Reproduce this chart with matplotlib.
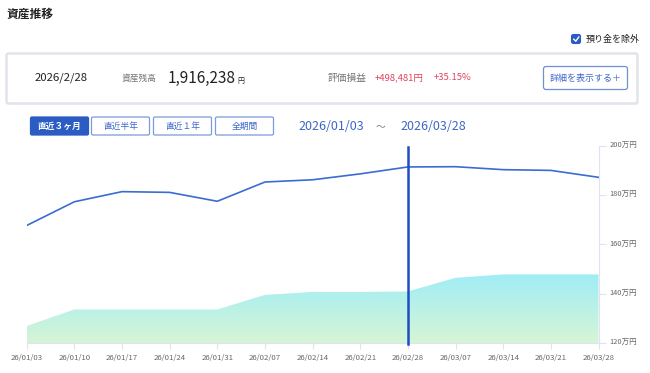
import numpy as np
import matplotlib.pyplot as plt
from matplotlib.patches import FancyBboxPatch, Polygon
from matplotlib.colors import LinearSegmentedColormap
from matplotlib.transforms import ScaledTranslation

plt.rcParams['font.family'] = ['Noto Sans CJK JP', 'DejaVu Sans']

# data (万円)
dates = ['26/01/03', '26/01/10', '26/01/17', '26/01/24', '26/01/31', '26/02/07', '26/02/14',
         '26/02/21', '26/02/28', '26/03/07', '26/03/14', '26/03/21', '26/03/28']
total = [167.7, 177.3, 181.4, 181.1, 177.5, 185.3, 186.2, 188.6, 191.4, 191.5, 190.3, 190.0, 187.2]
invested = [127.0, 133.7, 133.7, 133.7, 133.7, 139.6, 140.8, 140.8, 141.0, 146.5, 147.9, 147.9, 147.9]
y_ticks = [120, 140, 160, 180, 200]
y_labels = ['120万円', '140万円', '160万円', '180万円', '200万円']
cursor_idx = 8

W, H = 650, 373
fig = plt.figure(figsize=(W / 100, H / 100), dpi=100)

# overlay in pixel coordinates for the header widgets
ov = fig.add_axes([0, 0, 1, 1])
ov.set_xlim(0, W)
ov.set_ylim(H, 0)
ov.axis('off')

dark = '#222222'
gray = '#777777'
blue = '#3d66c9'
red = '#e0435f'

ov.text(7, 14, '資産推移', fontsize=8.5, fontweight='bold', color=dark, va='center')

# checkbox
ov.add_patch(FancyBboxPatch((571.5, 34.5), 9, 9, boxstyle='round,pad=0,rounding_size=2',
                            fc='#2b5cc5', ec='#2b5cc5', lw=0.8))
ov.plot([573.8, 575.8, 578.8], [39.2, 41.2, 37.0], color='white', lw=1.0)
ov.text(586, 39.5, '預り金を除外', fontsize=6.5, color=dark, va='center')

# summary box
ov.add_patch(FancyBboxPatch((6.5, 53.5), 631, 50, boxstyle='round,pad=0,rounding_size=2',
                            fc='white', ec='#e3e3ec', lw=1.8))
ov.text(35, 78, '2026/2/28', fontsize=8.2, color=dark, va='center')
ov.text(122, 78, '資産残高', fontsize=6.3, color=gray, va='center')
amount = ov.text(168, 78, '1,916,238', fontsize=11, color=dark, va='center')
ov.annotate('円', xy=(1, 0.22), xycoords=amount, xytext=(1, 0), textcoords='offset points',
            fontsize=5, color=dark, va='baseline')
ov.text(328, 78, '評価損益', fontsize=7, color=gray, va='center')
ov.text(375, 78, '+498,481円', fontsize=6.8, color=red, va='center')
ov.text(434, 78, '+35.15%', fontsize=6.8, color=red, va='center')
ov.add_patch(FancyBboxPatch((543.5, 66.5), 84, 23, boxstyle='round,pad=0,rounding_size=2.5',
                            fc='white', ec='#6f8fd6', lw=0.9))
ov.text(585.5, 78, '詳細を表示する＋', fontsize=6.5, color=blue, va='center', ha='center')

# period buttons
buttons = ['直近３ヶ月', '直近半年', '直近１年', '全期間']
bx = [30.5, 91.5, 153.5, 215.5]
for i, (b, x0) in enumerate(zip(buttons, bx)):
    active = i == 0
    ov.add_patch(FancyBboxPatch((x0, 117), 58, 18, boxstyle='round,pad=0,rounding_size=1.5',
                                fc='#2a5cc4' if active else 'white',
                                ec='#2a5cc4' if active else '#7d9ad9', lw=0.9))
    ov.text(x0 + 29, 126.5, b, fontsize=6.3, ha='center', va='center',
            color='white' if active else blue, fontweight='bold' if active else 'normal')

ov.text(298, 126.5, '2026/01/03', fontsize=9, color=blue, va='center')
ov.text(376, 126.5, '～', fontsize=7, color=gray, va='center')
ov.text(400, 126.5, '2026/03/28', fontsize=9, color=blue, va='center')

# chart axes
left, right = 26.7, 598.5
top, bottom = 145.7, 343.3
ax = fig.add_axes([left / W, 1 - bottom / H, (right - left) / W, (bottom - top) / H])
ax.set_facecolor('none')
x = np.arange(len(dates))
ax.set_xlim(0, len(dates) - 1)
ax.set_ylim(120, 200)

# gradient area
grad = np.linspace(0, 1, 256).reshape(-1, 1)
cmap = LinearSegmentedColormap.from_list('g', ['#d6f5d5', '#a0edf6'])
img = ax.imshow(grad, extent=[0, len(dates) - 1, 120, max(invested)], origin='lower',
                cmap=cmap, aspect='auto', zorder=1)
poly = Polygon(np.column_stack([np.r_[x, x[::-1]], np.r_[invested, [120] * len(x)]]),
               closed=True, fc='none', ec='none', transform=ax.transData)
ax.add_patch(poly)
img.set_clip_path(poly)

ax.plot(x, total, color='#3a6cd2', lw=1.2, zorder=3)
ax.axvline(cursor_idx, ymin=-0.005, ymax=0.992, color='#1f4cc0', lw=1.8, zorder=4, clip_on=False)

for s in ['left', 'top']:
    ax.spines[s].set_visible(False)
for s in ['right', 'bottom']:
    ax.spines[s].set_color('#dfe2f2')
    ax.spines[s].set_linewidth(0.8)

ax.set_xticks(x)
ax.set_xticklabels(dates)
ax.set_yticks(y_ticks)
ax.set_yticklabels(y_labels)
ax.yaxis.tick_right()
ax.tick_params(axis='x', length=4, width=0.8, color='#dfe2f2', labelsize=5.6,
               labelcolor='#666666', pad=4)
ax.tick_params(axis='y', length=5, width=0.8, color='#dfe2f2', labelsize=5.4,
               labelcolor='#666666', pad=3)
shift = ScaledTranslation(0, 2 / 100, fig.dpi_scale_trans)
for lab in ax.get_yticklabels():
    lab.set_transform(lab.get_transform() + shift)

fig.savefig('out.png', dpi=100)
